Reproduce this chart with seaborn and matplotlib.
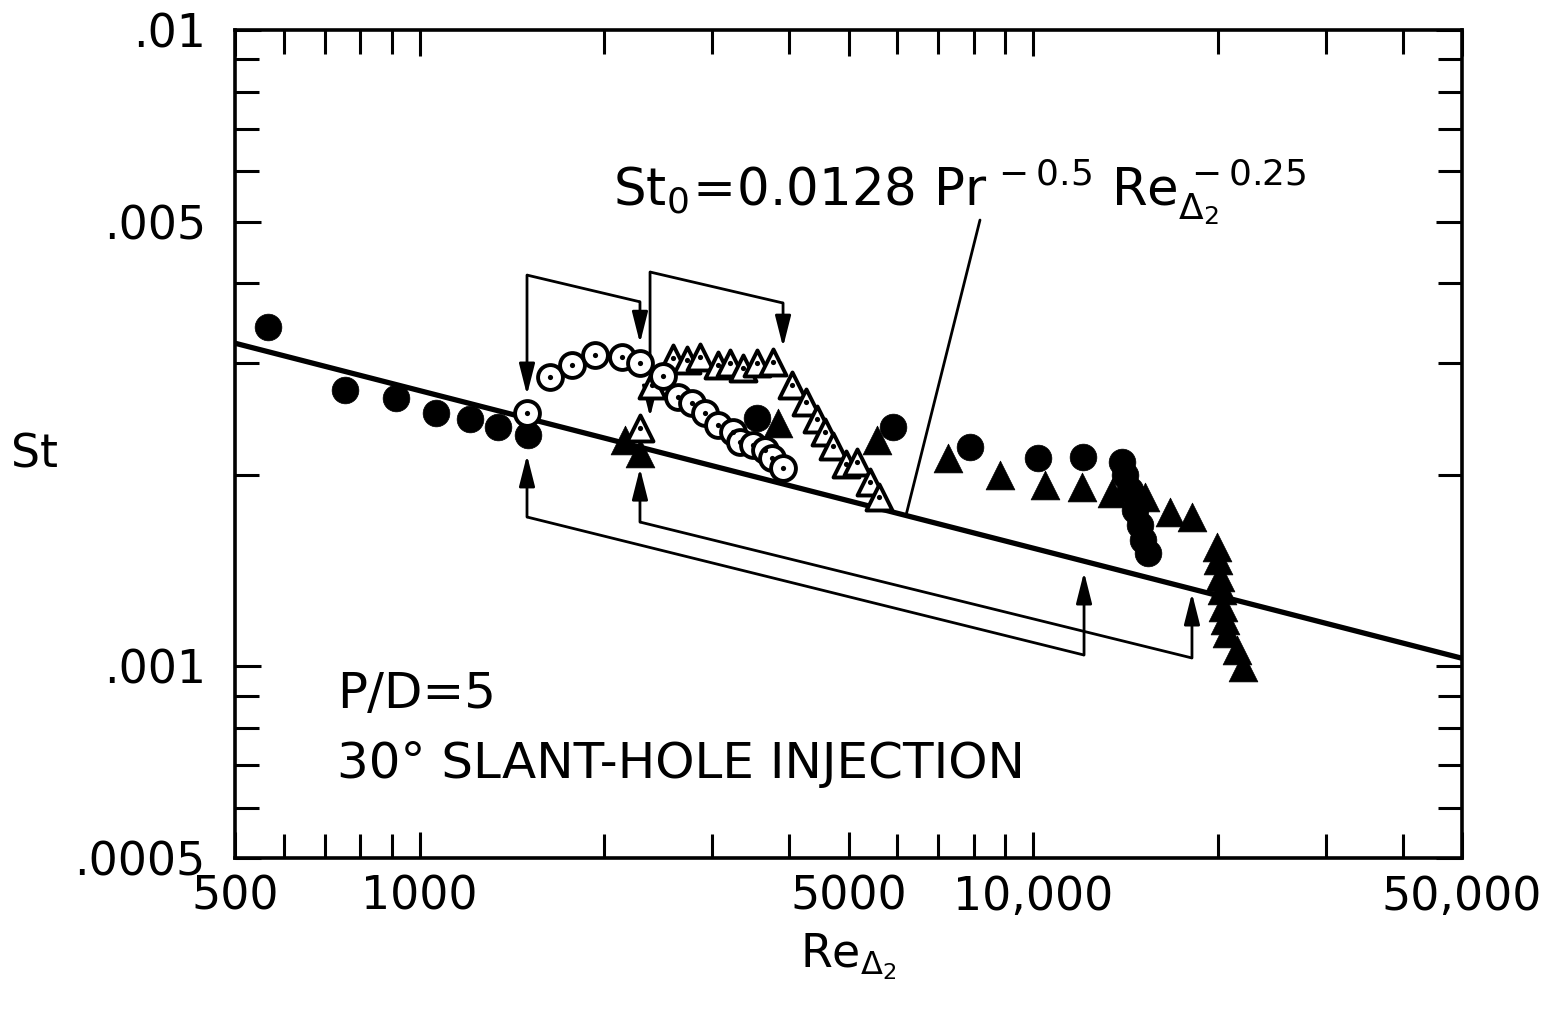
import matplotlib
matplotlib.use("Agg")
import matplotlib.pyplot as plt
from matplotlib.ticker import FixedLocator, FixedFormatter, NullFormatter
import pandas as pd
import seaborn as sns

# ---------------- data ----------------
solid_circle_re = [566, 756, 915, 1063, 1208, 1342, 1502, 3547, 5909, 7889,
                   10185, 12059, 13956, 14115, 14380, 14655, 14935, 15100, 15386]
solid_circle_st = [0.003414, 0.002718, 0.002640, 0.002501, 0.002447, 0.002378,
                   0.002310, 0.002456, 0.002378, 0.002212, 0.002126, 0.002133,
                   0.002095, 0.001999, 0.001893, 0.001761, 0.001668, 0.001579,
                   0.001507]

solid_tri_re = [2161, 2286, 3838, 5564, 7264, 8829, 10454, 12012, 13443, 15214,
                16711, 18148, 19935, 20010, 20160, 20310, 20385, 20540, 20693,
                21490, 21975]
solid_tri_st = [0.002268, 0.002164, 0.002412, 0.002268, 0.002126, 0.001999,
                0.001928, 0.001914, 0.001873, 0.001846, 0.001748, 0.001717,
                0.001540, 0.001469, 0.001382, 0.001318, 0.001240, 0.001183,
                0.001129, 0.001061, 0.000998]

open_circle_re = [1496, 1631, 1772, 1932, 2137, 2286, 2493, 2637, 2779, 2918,
                  3064, 3241, 3328, 3494, 3655, 3752, 3911]
open_circle_st = [0.002501, 0.002849, 0.002976, 0.003086, 0.003064, 0.002997,
                  0.002860, 0.002651, 0.002594, 0.002501, 0.002394, 0.002334,
                  0.002252, 0.002228, 0.002188, 0.002126, 0.002049]

open_tri_re = [2286, 2392, 2588, 2728, 2863, 3064, 3205, 3365, 3547, 3767,
               4043, 4262, 4442, 4577, 4717, 4953, 5161, 5419, 5607]
open_tri_st = [0.002369, 0.002768, 0.003053, 0.003031, 0.003064, 0.002976,
               0.002997, 0.002944, 0.002997, 0.003008, 0.002768, 0.002603,
               0.002447, 0.002334, 0.002220, 0.002080, 0.002095, 0.001949,
               0.001846]

# correlation line St0 = 0.0128 Pr^-0.5 Re^-0.25 (end points)
corr_re = [500, 50000]
corr_st = [0.00322, 0.00103]

# annotation brackets: (tip, corner, corner, tip)
bracket_a_re = [1496, 1496, 2286, 2286]
bracket_a_st = [0.00267, 0.00412, 0.00374, 0.00322]
bracket_b_re = [2374, 2374, 3911, 3911]
bracket_b_st = [0.002465, 0.004166, 0.003724, 0.003175]
bracket_c_re = [1496, 1496, 12103, 12103]
bracket_c_st = [0.002149, 0.001717, 0.001042, 0.001407]
bracket_d_re = [2286, 2286, 18148, 18148]
bracket_d_st = [0.002049, 0.001686, 0.001031, 0.001304]

pointer_re = [8190, 6204]
pointer_st = [0.005028, 0.001727]

x_major = [500, 1000, 5000, 10000, 50000]
x_major_labels = ["500", "1000", "5000", "10,000", "50,000"]
x_minor = [600, 700, 800, 900, 2000, 3000, 4000, 6000, 7000, 8000, 9000,
           20000, 30000, 40000]
y_major = [0.0005, 0.001, 0.005, 0.01]
y_major_labels = [".0005", ".001", ".005", ".01"]
y_minor = [0.0006, 0.0007, 0.0008, 0.0009, 0.002, 0.003, 0.004,
           0.006, 0.007, 0.008, 0.009]

# ---------------- style ----------------
sns.set_theme(style="white")
plt.rcParams['font.family'] = ['DejaVu Sans']
plt.rcParams['mathtext.default'] = 'regular'
plt.rcParams['mathtext.fontset'] = 'dejavusans'
for key in ('text.color', 'axes.labelcolor', 'xtick.color', 'ytick.color',
            'axes.edgecolor'):
    plt.rcParams[key] = 'black'

FS_TICK = 33
FS_TEXT = 36

fig = plt.figure(figsize=(15.5, 10.09), dpi=100)
fig.patch.set_facecolor('white')
ax = fig.add_axes([235 / 1550, 1 - 858 / 1009, (1462 - 235) / 1550, (858 - 30) / 1009])
ax.set_facecolor('white')
ax.set_xscale('log')
ax.set_yscale('log')

# correlation line
sns.lineplot(x=corr_re, y=corr_st, ax=ax, color='black', linewidth=3.8,
             zorder=2, estimator=None, sort=False)

# pointer line
ax.plot(pointer_re, pointer_st, color='black', linewidth=2.0, zorder=2)

# brackets
def bracket(re, st):
    ax.plot(re[1:3], st[1:3], color='black', linewidth=2.0, zorder=2,
            solid_capstyle='butt')
    for a, b in ((1, 0), (2, 3)):
        ax.annotate('', xy=(re[b], st[b]), xytext=(re[a], st[a]),
                    arrowprops=dict(arrowstyle='-|>,head_length=0.95,head_width=0.24',
                                    lw=2.0, color='black', shrinkA=0, shrinkB=0,
                                    mutation_scale=20), zorder=2)

for r, s in ((bracket_a_re, bracket_a_st), (bracket_b_re, bracket_b_st),
             (bracket_c_re, bracket_c_st), (bracket_d_re, bracket_d_st)):
    bracket(r, s)

df_sc = pd.DataFrame({'Re': solid_circle_re, 'St': solid_circle_st})
df_st = pd.DataFrame({'Re': solid_tri_re, 'St': solid_tri_st})
df_oc = pd.DataFrame({'Re': open_circle_re, 'St': open_circle_st})
df_ot = pd.DataFrame({'Re': open_tri_re, 'St': open_tri_st})

sns.scatterplot(data=df_st, x='Re', y='St', ax=ax, marker='^', s=430,
                color='black', edgecolor='black', linewidth=0.5, zorder=3)
sns.scatterplot(data=df_sc, x='Re', y='St', ax=ax, marker='o', s=370,
                color='black', edgecolor='black', linewidth=0.5, zorder=3)
sns.scatterplot(data=df_ot, x='Re', y='St', ax=ax, marker='^', s=350,
                color='white', edgecolor='black', linewidth=2.8, zorder=4)
sns.scatterplot(data=df_ot, x='Re', y='St', ax=ax, marker='o', s=14,
                color='black', edgecolor='black', linewidth=0, zorder=4.1)
sns.scatterplot(data=df_oc, x='Re', y='St', ax=ax, marker='o', s=320,
                color='white', edgecolor='black', linewidth=2.8, zorder=5)
sns.scatterplot(data=df_oc, x='Re', y='St', ax=ax, marker='o', s=14,
                color='black', edgecolor='black', linewidth=0, zorder=5.1)

ax.set_xlim(500, 50000)
ax.set_ylim(0.0005, 0.01)

ax.xaxis.set_major_locator(FixedLocator(x_major))
ax.xaxis.set_major_formatter(FixedFormatter(x_major_labels))
ax.xaxis.set_minor_locator(FixedLocator(x_minor))
ax.xaxis.set_minor_formatter(NullFormatter())
ax.yaxis.set_major_locator(FixedLocator(y_major))
ax.yaxis.set_major_formatter(FixedFormatter(y_major_labels))
ax.yaxis.set_minor_locator(FixedLocator(y_minor))
ax.yaxis.set_minor_formatter(NullFormatter())

ax.tick_params(which='both', direction='in', top=True, right=True,
               bottom=True, left=True, width=2.2, color='black')
ax.tick_params(which='major', length=19)
ax.tick_params(which='minor', length=17)
ax.tick_params(axis='x', which='major', labelsize=FS_TICK, pad=12)
ax.tick_params(axis='y', which='major', labelsize=FS_TICK, pad=21)
for sp in ax.spines.values():
    sp.set_linewidth(2.6)
    sp.set_color('black')
    sp.set_visible(True)

ax.set_xlabel(r'$Re_{\Delta_2}$', fontsize=FS_TICK)
ax.xaxis.set_label_coords(0.5, -0.088)
ax.set_ylabel('St', fontsize=FS_TICK, rotation=0, va='center', ha='center')
ax.yaxis.set_label_coords(-0.163, 0.487)

ax.text(0.308, 0.789, r'$St_0\!=\!0.0128\ Pr^{\,-0.5}\ Re_{\Delta_2}^{\,-0.25}$',
        transform=ax.transAxes, fontsize=FS_TEXT + 1, va='baseline', ha='left')
ax.text(0.083, 0.181, 'P/D=5', transform=ax.transAxes, fontsize=FS_TEXT,
        va='baseline', ha='left')
ax.text(0.083, 0.0966, '30° SLANT-HOLE INJECTION', transform=ax.transAxes,
        fontsize=FS_TEXT, va='baseline', ha='left')

fig.savefig('out.png', dpi=100, facecolor='white')
